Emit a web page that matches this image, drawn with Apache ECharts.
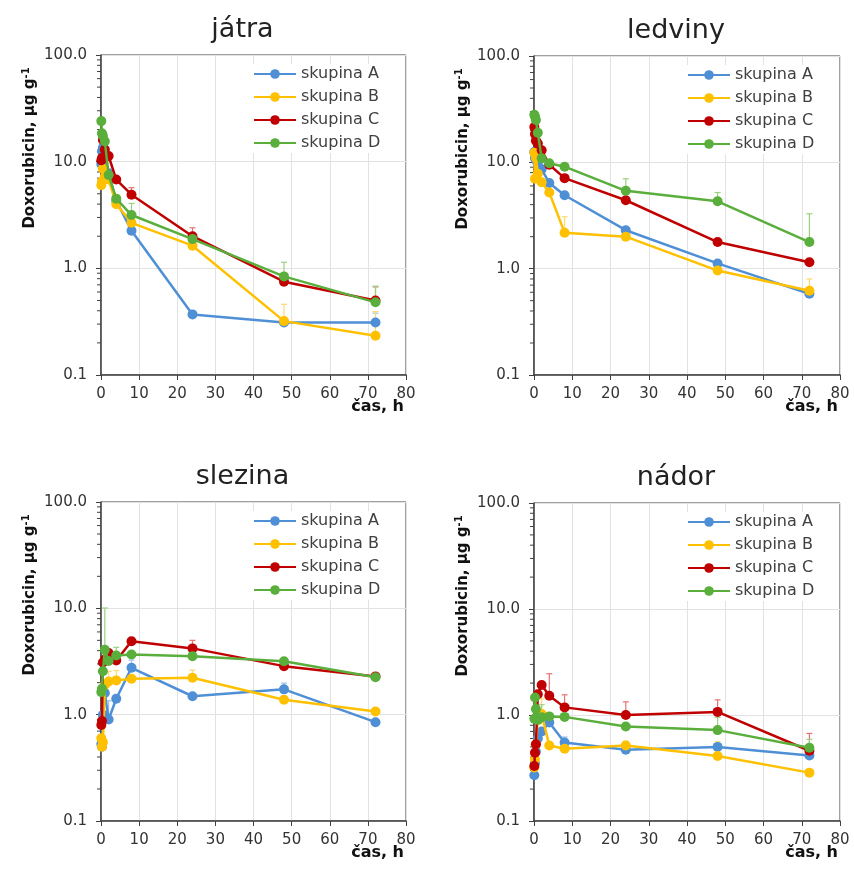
<!DOCTYPE html>
<html>
<head>
<meta charset="utf-8">
<script src="https://cdn.jsdelivr.net/npm/echarts@6/dist/echarts.min.js"></script>
<style>
  html, body { margin: 0; padding: 0; background: #fff; }
  #chart { width: 854px; height: 883px; }
</style>
</head>
<body>
<div id="chart"></div>
<script>
// Sampling times (h)
const times = [0.083, 0.25, 0.5, 1, 2, 4, 8, 24, 48, 72];
const groups = ['skupina A', 'skupina B', 'skupina C', 'skupina D'];
const organs = ['játra', 'ledviny', 'slezina', 'nádor'];
const yTickLabels = ['0.1', '1.0', '10.0', '100.0'];
const xTickLabels = ['0', '10', '20', '30', '40', '50', '60', '70', '80'];

// Doxorubicin concentration (µg/g), mean values
const jatraA = [9.5, 12.5, 13.5, 11, 7.8, 4.3, 2.25, 0.37, 0.31, 0.31];
const jatraB = [6.0, 6.5, 8.6, 7.2, 6.8, 4.0, 2.67, 1.63, 0.32, 0.233];
const jatraC = [10.3, 10.8, 16, 13, 11.3, 6.8, 4.9, 2.0, 0.75, 0.5];
const jatraD = [24, 18.5, 17.5, 15.5, 7.5, 4.5, 3.16, 1.88, 0.84, 0.48];

const ledvinyA = [12.5, 11, 10.5, 9.5, 8.6, 6.4, 4.9, 2.3, 1.12, 0.58];
const ledvinyB = [12.3, 7.0, 11, 7.8, 6.5, 5.2, 2.18, 2.0, 0.96, 0.62];
const ledvinyC = [21.5, 18.5, 16, 15, 13, 9.5, 7.1, 4.4, 1.78, 1.15];
const ledvinyD = [28, 27, 25, 19, 10.9, 9.8, 9.1, 5.4, 4.3, 1.78];

const slezinaA = [0.53, 0.5, 1.0, 1.6, 0.9, 1.41, 2.76, 1.49, 1.73, 0.85];
const slezinaB = [0.6, 0.5, 0.55, 1.9, 2.05, 2.1, 2.18, 2.22, 1.38, 1.07];
const slezinaC = [0.8, 0.87, 3.1, 3.3, 3.8, 3.23, 4.9, 4.2, 2.86, 2.29];
const slezinaD = [1.63, 1.75, 2.56, 4.07, 3.2, 3.6, 3.68, 3.55, 3.18, 2.25];

const nadorA = [0.27, 0.35, 0.45, 0.6, 0.7, 0.85, 0.55, 0.47, 0.5, 0.415];
const nadorB = [0.32, 0.38, 0.53, 0.9, 1.02, 0.515, 0.48, 0.515, 0.41, 0.286];
const nadorC = [0.33, 0.44, 0.53, 1.57, 1.92, 1.52, 1.18, 1.0, 1.07, 0.46];
const nadorD = [0.92, 1.46, 1.14, 0.9, 0.95, 0.97, 0.96, 0.78, 0.72, 0.49];

// Upper standard deviations
const jatraErrA = [0, 1.5, 1.0, 0, 0, 0, 0.2, 0, 0, 0.07];
const jatraErrB = [0, 0, 0, 0, 0, 0, 0, 0.15, 0.14, 0.16];
const jatraErrC = [0, 0, 1.5, 0, 0, 0, 0.8, 0.4, 0.1, 0.17];
const jatraErrD = [0, 0, 0, 0, 0, 0, 0.9, 0.2, 0.3, 0.2];

const ledvinyErrA = [0, 0, 0, 0, 0, 0, 0, 0, 0, 0];
const ledvinyErrB = [0, 0, 0, 0, 0, 0, 0.9, 0, 0, 0.18];
const ledvinyErrC = [0, 0, 0, 0, 0, 0, 0, 0, 0, 0.05];
const ledvinyErrD = [0, 0, 0, 0, 0, 0, 0, 1.6, 0.9, 1.5];

const slezinaErrA = [0, 0, 0, 0, 0.45, 0, 0.5, 0, 0.25, 0];
const slezinaErrB = [0, 0, 0, 0, 0.5, 0.5, 0, 0.4, 0, 0];
const slezinaErrC = [0, 0, 0, 0, 0, 0, 0, 0.8, 0, 0.1];
const slezinaErrD = [0, 0, 0, 6, 0, 0.7, 0, 0, 0, 0];

const nadorErrA = [0, 0, 0, 0, 0, 0.18, 0.07, 0, 0, 0.05];
const nadorErrB = [0, 0, 0, 0, 0.4, 0, 0, 0.05, 0.15, 0];
const nadorErrC = [0, 0, 0, 0, 0, 0.93, 0.37, 0.33, 0.32, 0.21];
const nadorErrD = [0, 0, 0, 0, 0.3, 0, 0, 0, 0.23, 0.1];

const panelValues = [
  [jatraA, jatraB, jatraC, jatraD],
  [ledvinyA, ledvinyB, ledvinyC, ledvinyD],
  [slezinaA, slezinaB, slezinaC, slezinaD],
  [nadorA, nadorB, nadorC, nadorD]
];
const panelErrors = [
  [jatraErrA, jatraErrB, jatraErrC, jatraErrD],
  [ledvinyErrA, ledvinyErrB, ledvinyErrC, ledvinyErrD],
  [slezinaErrA, slezinaErrB, slezinaErrC, slezinaErrD],
  [nadorErrA, nadorErrB, nadorErrC, nadorErrD]
];

const colors = ['#4F8FD6', '#FFC000', '#C00000', '#5AAE3C'];
const errColors = ['#9DC2EC', '#FFD970', '#E57373', '#9AD180'];
const FONT = 'DejaVu Sans';
const TEXT = '#333333';

// Panel layout (plot area boxes)
const boxes = [
  { left: 101, top: 55, width: 305, height: 320 },
  { left: 534, top: 56, width: 306, height: 319 },
  { left: 101, top: 502, width: 305, height: 319 },
  { left: 534, top: 503, width: 306, height: 318 }
];

// Log minor tick positions (2..9 within each decade)
const minorTicks = [];
[0.1, 1, 10].forEach(d => { for (let k = 2; k <= 9; k++) minorTicks.push(+(k * d).toPrecision(3)); });

const grids = [], xAxes = [], yAxes = [], series = [], legends = [], titles = [], graphics = [];

boxes.forEach((b, p) => {
  grids.push({
    left: b.left, top: b.top, width: b.width, height: b.height,
    show: true, borderColor: '#404040', borderWidth: 1, backgroundColor: 'transparent'
  });
  xAxes.push({
    gridIndex: p, type: 'value', min: 0, max: 80, interval: 10,
    axisLine: { show: true, onZero: false, lineStyle: { color: '#404040', width: 1.5 } },
    axisTick: { show: true, inside: false, length: 5, lineStyle: { color: '#404040' } },
    axisLabel: { margin: 12, fontFamily: FONT, fontSize: 15, color: TEXT,
      formatter: v => xTickLabels[Math.round(v / 10)] },
    splitLine: { show: true, lineStyle: { color: '#E2E2E2', width: 1 } }
  });
  yAxes.push({
    gridIndex: p, type: 'log', logBase: 10, min: 0.1, max: 100,
    axisLine: { show: true, lineStyle: { color: '#404040', width: 1.5 } },
    axisTick: { show: true, inside: false, length: 5, lineStyle: { color: '#404040' } },
    axisLabel: { margin: 14, fontFamily: FONT, fontSize: 15, color: TEXT,
      formatter: v => yTickLabels[Math.round(Math.log10(v)) + 1] },
    splitLine: { show: true, lineStyle: { color: '#E2E2E2', width: 1 } }
  });

  // minor ticks on the log axis
  series.push({
    type: 'custom', xAxisIndex: p, yAxisIndex: p, silent: true, clip: false, z: 1,
    data: minorTicks.map(v => [0, v]),
    encode: { x: 0, y: 1 },
    renderItem: (params, api) => {
      const pt = api.coord([0, api.value(1)]);
      return { type: 'line', shape: { x1: pt[0] - 4, y1: pt[1], x2: pt[0], y2: pt[1] },
        style: { stroke: '#404040', lineWidth: 1 } };
    }
  });

  groups.forEach((g, s) => {
    const vals = panelValues[p][s];
    const errs = panelErrors[p][s];
    // error bars
    series.push({
      type: 'custom', name: 'sd ' + g, xAxisIndex: p, yAxisIndex: p, silent: true, z: 2,
      data: times.map((t, i) => [t, vals[i], vals[i] + errs[i]]),
      encode: { x: 0, y: [1, 2] },
      renderItem: (params, api) => {
        const lo = api.value(1), hi = api.value(2);
        if (!(hi > lo)) return;
        const a = api.coord([api.value(0), lo]);
        const c = api.coord([api.value(0), hi]);
        return { type: 'group', children: [
          { type: 'line', shape: { x1: a[0], y1: a[1], x2: c[0], y2: c[1] }, style: { stroke: errColors[s], lineWidth: 1.2 } },
          { type: 'line', shape: { x1: c[0] - 3, y1: c[1], x2: c[0] + 3, y2: c[1] }, style: { stroke: errColors[s], lineWidth: 1.2 } }
        ]};
      }
    });
    series.push({
      type: 'line', name: g, xAxisIndex: p, yAxisIndex: p, z: 3 + s,
      data: times.map((t, i) => [t, vals[i]]),
      symbol: 'circle', symbolSize: 10, showSymbol: true,
      lineStyle: { color: colors[s], width: 2.5 },
      itemStyle: { color: colors[s] },
      emphasis: { disabled: true },
      animation: false
    });
  });

  legends.push({
    data: groups, orient: 'vertical',
    left: b.left + b.width - 157, top: b.top + 9,
    backgroundColor: '#ffffff', padding: [2, 6, 2, 4],
    itemWidth: 42, itemHeight: 12, itemGap: 7,
    textStyle: { fontFamily: FONT, fontSize: 16, color: '#404040' }
  });

  titles.push({
    text: organs[p], left: b.left + b.width / 2 - 16, top: b.top - 44, textAlign: 'center',
    textStyle: { fontFamily: FONT, fontSize: 27, fontWeight: 'normal', color: '#222' }
  });

  // axis names
  graphics.push({
    type: 'text', x: b.left - 71, y: b.top + 93, rotation: Math.PI / 2,
    style: {
      text: '{b|Doxorubicin, μg g}{s|-1}', align: 'center', verticalAlign: 'middle',
      rich: {
        b: { fontFamily: FONT, fontSize: 15, fontWeight: 'bold', fill: '#111' },
        s: { fontFamily: FONT, fontSize: 10, fontWeight: 'bold', fill: '#111', verticalAlign: 'top', padding: [0, 0, 8, 0] }
      }
    }
  });
  graphics.push({
    type: 'text', x: b.left + b.width - 2, y: b.top + b.height + 32,
    style: { text: 'čas, h', align: 'right', verticalAlign: 'middle',
      fontFamily: FONT, fontSize: 16, fontWeight: 'bold', fill: '#111' }
  });
});

const chart = echarts.init(document.getElementById('chart'), null, { renderer: 'canvas' });
chart.setOption({
  animation: false,
  backgroundColor: '#ffffff',
  title: titles,
  legend: legends,
  grid: grids,
  xAxis: xAxes,
  yAxis: yAxes,
  series: series,
  graphic: graphics
});
</script>
</body>
</html>
